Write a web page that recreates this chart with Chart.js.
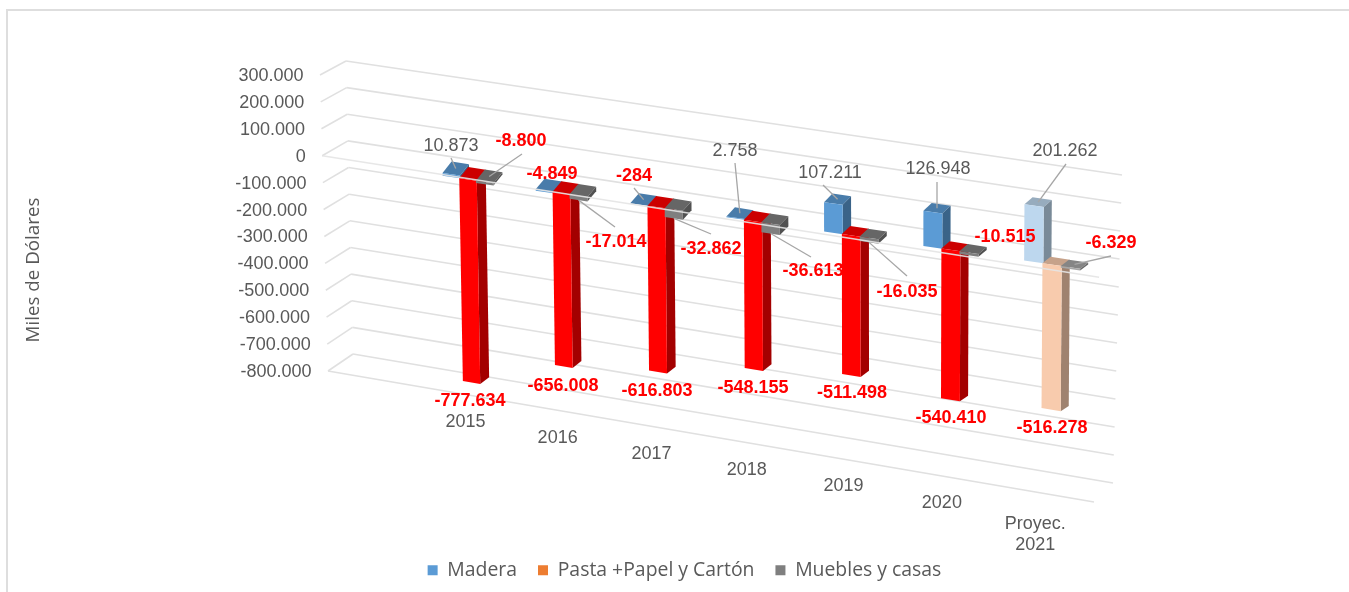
<!DOCTYPE html>
<html lang="es">

<head>
    <meta charset="UTF-8">
    <title>Miles de Dólares</title>
    <style>
        body {
            margin: 0;
            background: #fff;
            overflow: hidden;
        }

        #frame {
            position: absolute;
            left: 6px;
            top: 9px;
            right: 0;
            bottom: 0;
            border-left: 2px solid #dedede;
            border-top: 2px solid #dedede;
        }

        #myChart {
            position: absolute;
            left: 0;
            top: 0;
        }
    </style>
</head>

<body>
    <div id="frame"></div>
    <canvas id="myChart" width="1349" height="592"></canvas>
    <script src="https://cdn.jsdelivr.net/npm/chart.js"></script>

    <script>
        // data
        const categories = ['2015', '2016', '2017', '2018', '2019', '2020', ['Proyec.', '2021']];
        const madera = [10873, -4849, -284, 2758, 107211, 126948, 201262];
        const pasta = [-777634, -656008, -616803, -548155, -511498, -540410, -516278];
        const muebles = [-8800, -17014, -32862, -36613, -16035, -10515, -6329];

        const yMin = -800000;
        const yMax = 300000;
        const yStep = 100000;

        // bar colours, the last column (the projection) is paler
        const maderaColors = ['#5B9BD5', '#5B9BD5', '#5B9BD5', '#5B9BD5', '#5B9BD5', '#5B9BD5', '#BDD7EE'];
        const pastaColors = ['#FF0000', '#FF0000', '#FF0000', '#FF0000', '#FF0000', '#FF0000', '#F8CBAD'];
        const mueblesColors = ['#7F7F7F', '#7F7F7F', '#7F7F7F', '#7F7F7F', '#7F7F7F', '#7F7F7F', '#A6A6A6'];

        // the perspective: corners of the planes on the screen (top = yMax, bottom = yMin)
        const barPlane = { tl: [417.8, 94.6], tr: [1101.5, 187], bl: [423.4, 379.9], br: [1098.8, 497.7] };
        const backWall = { tl: [346, 61], tr: [1122, 175], bl: [353, 354], br: [1113, 483] };
        const frontWall = { tl: [320, 75], tr: [1101, 193], bl: [328, 371], br: [1094, 502] };

        // where the data labels were moved to: [x, y] of the text, then the far end of the leader line
        const maderaLabels = [[451, 146], [552, 174], [634, 176], [735, 151], [830, 173], [938, 169], [1065, 151]];
        const maderaLeaders = [[451, 158], null, [634, 188], [735, 163], [823, 185], [937, 182], [1066, 164]];
        const pastaLabels = [[470, 401], [563, 386], [657, 391], [753, 388], [852, 393], [951, 418], [1052, 428]];
        const mueblesLabels = [[521, 141], [616, 242], [711, 249], [813, 271], [907, 292], [1005, 237], [1111, 243]];
        const mueblesLeaders = [[522, 154], [615, 227], [711, 234], [811, 257], [907, 276], null, [1111, 256]];

        const fontName = '"Liberation Sans", Arial, sans-serif';
        const textColor = '#595959';
        const gridColor = '#e0e0e0';

        function lerp(a, b, t) {
            return a + (b - a) * t;
        }

        function project(plane, u, v) {
            return [
                lerp(lerp(plane.tl[0], plane.tr[0], u), lerp(plane.bl[0], plane.br[0], u), v),
                lerp(lerp(plane.tl[1], plane.tr[1], u), lerp(plane.bl[1], plane.br[1], u), v)
            ];
        }

        // columns get wider apart to the right
        function warp(u) {
            return u + 0.0557 * (u - 0.0714) * (u - 0.9286);
        }

        // how far the back of a bar sits from its front
        function depthOffset(u, v) {
            return [lerp(9, 8, u), lerp(lerp(-13.4, -6.8, v), lerp(-6.5, -4.5, v), u)];
        }

        function shade(hex, f) {
            const n = parseInt(hex.slice(1), 16);
            const r = Math.round((n >> 16) * f);
            const g = Math.round(((n >> 8) & 255) * f);
            const b = Math.round((n & 255) * f);
            return 'rgb(' + r + ',' + g + ',' + b + ')';
        }

        function fmt(value) {
            return value.toLocaleString('de-DE');
        }

        function polygon(ctx, points, color) {
            ctx.fillStyle = color;
            ctx.beginPath();
            ctx.moveTo(points[0][0], points[0][1]);
            for (let i = 1; i < points.length; i++) {
                ctx.lineTo(points[i][0], points[i][1]);
            }
            ctx.closePath();
            ctx.fill();
        }

        function barCorners(chart, bar) {
            const area = chart.chartArea;
            const yScale = chart.scales.y;
            const toU = px => warp((px - area.left) / area.width);
            const toV = px => (px - yScale.top) / yScale.height;
            const u0 = toU(bar.x - bar.width / 2);
            const u1 = toU(bar.x + bar.width / 2);
            const vTop = toV(Math.min(bar.y, bar.base));
            const vBottom = toV(Math.max(bar.y, bar.base));
            const back = (p, u, v) => {
                const d = depthOffset(u, v);
                return [p[0] + d[0], p[1] + d[1]];
            };
            const fl = project(barPlane, u0, vTop);
            const fr = project(barPlane, u1, vTop);
            const bl = project(barPlane, u0, vBottom);
            const br = project(barPlane, u1, vBottom);
            return {
                fl, fr, bl, br,
                bfl: back(fl, u0, vTop),
                bfr: back(fr, u1, vTop),
                bbr: back(br, u1, vBottom)
            };
        }

        // a bar chart whose bars are drawn as boxes in perspective
        // Chart.js draws the datasets last to first, here the first one has to end up underneath,
        // so the call for dataset 0 (the last call) paints all of them
        class Bar3dController extends Chart.BarController {
            draw() {
                if (this.index !== 0) {
                    return;
                }
                const chart = this.chart;
                const ctx = chart.ctx;
                chart.data.datasets.forEach((dataset, d) => {
                    const colors = dataset.barColors;
                    chart.getDatasetMeta(d).data.forEach((bar, i) => {
                        const c = barCorners(chart, bar);
                        polygon(ctx, [c.fl, c.fr, c.bfr, c.bfl], shade(colors[i], 0.8));
                        polygon(ctx, [c.fr, c.br, c.bbr, c.bfr], shade(colors[i], 0.64));
                        polygon(ctx, [c.fl, c.fr, c.br, c.bl], colors[i]);
                    });
                });
            }
        }
        Bar3dController.id = 'bar3d';
        Bar3dController.defaults = Chart.BarController.defaults;
        Bar3dController.overrides = Chart.BarController.overrides;
        Chart.register(Bar3dController);

        function line(ctx, a, b) {
            ctx.beginPath();
            ctx.moveTo(a[0], a[1]);
            ctx.lineTo(b[0], b[1]);
            ctx.stroke();
        }

        function valueToV(scale, value) {
            return (scale.getPixelForValue(value) - scale.top) / scale.height;
        }

        const wallPlugin = {
            id: 'wall',
            beforeDatasetsDraw(chart) {
                const ctx = chart.ctx;
                const yScale = chart.scales.y;
                ctx.save();
                ctx.strokeStyle = gridColor;
                ctx.lineWidth = 1.6;
                yScale.ticks.forEach(tick => {
                    const v = valueToV(yScale, tick.value);
                    const corner = project(backWall, 0, v);
                    line(ctx, project(frontWall, 0, v), corner);
                    line(ctx, corner, project(backWall, 1, v));
                });
                line(ctx, project(frontWall, 0, 1), project(frontWall, 1, 1));
                ctx.restore();
            },
            afterDatasetsDraw(chart) {
                const ctx = chart.ctx;
                const yScale = chart.scales.y;
                const area = chart.chartArea;
                ctx.save();

                // the zero line passes in front of the bars
                const v0 = valueToV(yScale, 0);
                ctx.strokeStyle = 'rgba(228,228,228,0.9)';
                ctx.lineWidth = 1.6;
                line(ctx, project(frontWall, 0, v0), project(frontWall, 1, v0));

                // value axis labels follow the left edge
                ctx.font = '18px ' + fontName;
                ctx.fillStyle = textColor;
                ctx.textAlign = 'right';
                ctx.textBaseline = 'middle';
                yScale.ticks.forEach(tick => {
                    const p = project(frontWall, 0, valueToV(yScale, tick.value));
                    ctx.fillText(fmt(tick.value), p[0] - 16.5, p[1] + 1);
                });

                // category labels under the floor
                ctx.textAlign = 'center';
                const xScale = chart.scales.x;
                categories.forEach((label, i) => {
                    const u = (xScale.getPixelForTick(i) - area.left) / area.width;
                    const p = project(barPlane, warp(u), 1);
                    const x = p[0] - 6 - 3 * u;
                    const y = p[1] + 34.5 - 4 * u;
                    if (Array.isArray(label)) {
                        label.forEach((part, k) => ctx.fillText(part, x - 6.5, y + 4 + k * 21));
                    } else {
                        ctx.fillText(label, x, y);
                    }
                });

                // axis title
                ctx.save();
                ctx.translate(34, 270);
                ctx.rotate(-Math.PI / 2);
                ctx.font = '18.8px "Open Sans", sans-serif';
                ctx.fillText('Miles de Dólares', 0, 0);
                ctx.restore();

                // leaders
                ctx.strokeStyle = '#a6a6a6';
                ctx.lineWidth = 1.3;
                drawLeaders(chart, 0, maderaLeaders);
                drawLeaders(chart, 2, mueblesLeaders);

                // data labels
                drawLabels(chart, madera, maderaLabels, true);
                drawLabels(chart, pasta, pastaLabels, false);
                drawLabels(chart, muebles, mueblesLabels, false);
                ctx.restore();
            }
        };

        function drawLeaders(chart, datasetIndex, ends) {
            const bars = chart.getDatasetMeta(datasetIndex).data;
            bars.forEach((bar, i) => {
                if (!ends[i]) {
                    return;
                }
                const c = barCorners(chart, bar);
                let anchor;
                if (ends[i][1] > c.fl[1]) {
                    anchor = [(c.bl[0] + c.br[0]) / 2, (c.bl[1] + c.br[1]) / 2];
                } else {
                    anchor = [(c.fl[0] + c.bfr[0]) / 2, (c.fl[1] + c.bfr[1]) / 2];
                }
                line(chart.ctx, ends[i], anchor);
            });
        }

        function drawLabels(chart, values, places, greyPositives) {
            const ctx = chart.ctx;
            values.forEach((value, i) => {
                if (greyPositives && value > 0) {
                    ctx.font = '18px ' + fontName;
                    ctx.fillStyle = textColor;
                } else {
                    ctx.font = 'bold 18px ' + fontName;
                    ctx.fillStyle = '#FF0000';
                }
                ctx.fillText(fmt(value), places[i][0], places[i][1]);
            });
        }

        const myChart = new Chart(document.getElementById('myChart'), {
            type: 'bar3d',
            data: {
                labels: categories,
                datasets: [
                    { label: 'Madera', data: madera, backgroundColor: '#5B9BD5', barColors: maderaColors },
                    { label: 'Pasta +Papel y Cartón', data: pasta, backgroundColor: '#ED7D31', barColors: pastaColors },
                    { label: 'Muebles y casas', data: muebles, backgroundColor: '#7F7F7F', barColors: mueblesColors }
                ]
            },
            options: {
                responsive: false,
                animation: false,
                categoryPercentage: 0.54,
                barPercentage: 1.05,
                layout: { padding: { left: 20, bottom: 2 } },
                plugins: {
                    legend: {
                        position: 'bottom',
                        labels: {
                            boxWidth: 10,
                            boxHeight: 10,
                            padding: 21,
                            color: textColor,
                            font: { family: '"Open Sans", sans-serif', size: 19.4 }
                        }
                    },
                    tooltip: { enabled: false }
                },
                scales: {
                    x: { display: false },
                    y: {
                        min: yMin,
                        max: yMax,
                        grid: { display: false },
                        border: { display: false },
                        ticks: { display: false, stepSize: yStep }
                    }
                }
            },
            plugins: [wallPlugin]
        });
    </script>
</body>

</html>
